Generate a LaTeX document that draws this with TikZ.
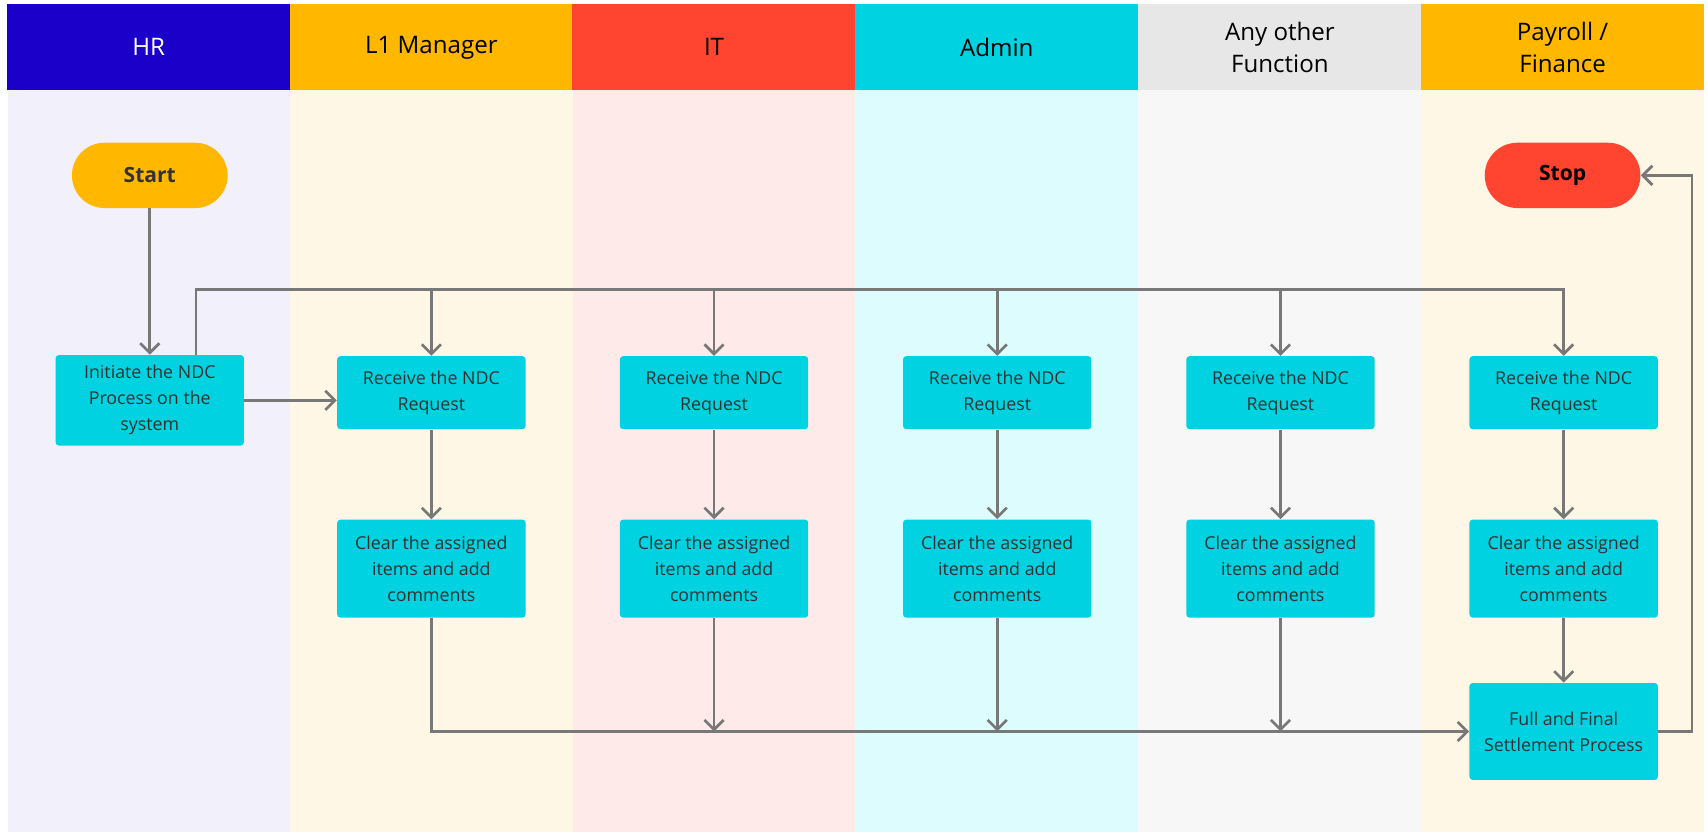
\documentclass[tikz,border=0pt]{standalone}
\usepackage{fontspec}
\setmainfont{Open Sans}
\usetikzlibrary{arrows.meta}

\definecolor{hrblue}{RGB}{26,0,200}
\definecolor{amber}{RGB}{255,183,0}
\definecolor{itred}{RGB}{255,69,48}
\definecolor{taskcyan}{RGB}{0,210,225}
\definecolor{headgray}{RGB}{231,231,231}
\definecolor{hrbody}{RGB}{242,240,251}
\definecolor{amberbody}{RGB}{255,247,230}
\definecolor{itbody}{RGB}{255,234,234}
\definecolor{admbody}{RGB}{221,252,253}
\definecolor{anybody}{RGB}{247,247,247}
\definecolor{linegray}{RGB}{120,120,120}
\definecolor{textgray}{RGB}{50,50,50}

\tikzset{
	lanehead/.style={minimum width=5.2cm, minimum height=1.58cm, inner sep=0pt, align=center, font=\fontsize{12.6}{17}\selectfont},
	task/.style={fill=taskcyan, rounded corners=0.06cm, align=center, text=textgray, minimum width=3.46cm, inner sep=0pt, font=\fontsize{9.3}{13.6}\selectfont},
	terminal/.style={rounded corners=0.6cm, minimum width=2.86cm, minimum height=1.2cm, inner sep=0pt, font=\fontsize{11}{13}\selectfont\bfseries},
	link/.style={draw=linegray, line width=1.4pt},
	flow/.style={link, -{Straight Barb[length=5pt, width=10pt, line width=1.4pt]}}
}

\begin{document}
\begin{tikzpicture}[x=0.02cm, y=-0.02cm]
	\useasboundingbox (0,0) rectangle (1568,764);
	
	% lane bodies
	\fill[hrbody] (7,83) rectangle (266,764);
	\fill[amberbody] (266,83) rectangle (526,764);
	\fill[itbody] (526,83) rectangle (785,764);
	\fill[admbody] (785,83) rectangle (1045,764);
	\fill[anybody] (1045,83) rectangle (1305,764);
	\fill[amberbody] (1305,83) rectangle (1564,764);
	
	% lane headers
	\node[lanehead, fill=hrblue, text=white] (hHR) at (136.5,43.5) {HR};
	\node[lanehead, fill=amber] (hL1) at (396,43.5) {L1 Manager\vphantom{A}};
	\node[lanehead, fill=itred] (hIT) at (655.5,43.5) {IT};
	\node[lanehead, fill=taskcyan] (hAdm) at (915,43.5) {Admin};
	\node[lanehead, fill=headgray] (hAny) at (1175,43.5) {Any other\\Function};
	\node[lanehead, fill=amber] (hPay) at (1434.5,43.5) {Payroll /\\Finance};
	
	% start and stop
	\node[terminal, fill=amber, text=textgray] (start) at (137.5,161) {Start};
	\node[terminal, fill=itred, text=black] (stop) at (1434.5,161) {Stop};
	
	% tasks
	\node[task, minimum height=1.66cm] (init) at (137.5,367.5) {Initiate the NDC\\Process on the\\system};
	
	\node[task, minimum height=1.34cm] (recvL1) at (396,360.5) {Receive the NDC\\Request};
	\node[task, minimum height=1.34cm] (recvIT) at (655.5,360.5) {Receive the NDC\\Request};
	\node[task, minimum height=1.34cm] (recvAdm) at (915.5,360.5) {Receive the NDC\\Request};
	\node[task, minimum height=1.34cm] (recvAny) at (1175.5,360.5) {Receive the NDC\\Request};
	\node[task, minimum height=1.34cm] (recvPay) at (1435.5,360.5) {Receive the NDC\\Request};
	
	\node[task, minimum height=1.8cm] (clrL1) at (396,522) {Clear the assigned\\items and add\\comments};
	\node[task, minimum height=1.8cm] (clrIT) at (655.5,522) {Clear the assigned\\items and add\\comments};
	\node[task, minimum height=1.8cm] (clrAdm) at (915.5,522) {Clear the assigned\\items and add\\comments};
	\node[task, minimum height=1.8cm] (clrAny) at (1175.5,522) {Clear the assigned\\items and add\\comments};
	\node[task, minimum height=1.8cm] (clrPay) at (1435.5,522) {Clear the assigned\\items and add\\comments};
	
	\node[task, minimum height=1.78cm] (ffs) at (1435.5,671.5) {Full and Final\\Settlement Process};
	
	% connectors
	\coordinate (busL) at (180,266);
	\draw[flow] (start) -- (init);
	\draw[flow] (init.east) -- (init.east -| recvL1.west);
	\draw[flow] (init.north -| busL) -- (busL) -| (recvPay);
	\draw[flow] (busL -| recvL1) -- (recvL1);
	\draw[flow] (busL -| recvIT) -- (recvIT);
	\draw[flow] (busL -| recvAdm) -- (recvAdm);
	\draw[flow] (busL -| recvAny) -- (recvAny);
	
	\draw[flow] (recvL1) -- (clrL1);
	\draw[flow] (recvIT) -- (clrIT);
	\draw[flow] (recvAdm) -- (clrAdm);
	\draw[flow] (recvAny) -- (clrAny);
	\draw[flow] (recvPay) -- (clrPay);
	
	\draw[flow] (clrL1) |- (ffs);
	\draw[flow] (clrIT) -- (clrIT |- ffs);
	\draw[flow] (clrAdm) -- (clrAdm |- ffs);
	\draw[flow] (clrAny) -- (clrAny |- ffs);
	\draw[flow] (clrPay) -- (ffs);
	\draw[flow] (ffs.east) -- ++(31,0) |- (stop.east);
\end{tikzpicture}
\end{document}
